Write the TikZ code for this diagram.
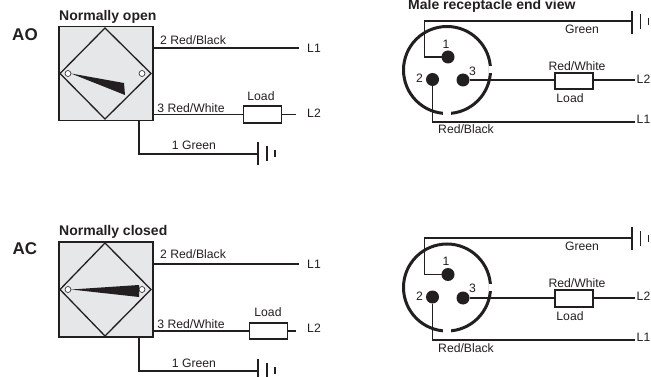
\documentclass[tikz,border=0pt]{standalone}
\usepackage{fontspec}
\setmainfont{Liberation Sans}
\definecolor{ink}{HTML}{231F20}
\definecolor{panel}{HTML}{E6E7E8}
\tikzset{
  wire/.style={draw=ink,line width=1.25pt},
  txt/.style={text=ink,inner sep=0pt,font=\fontsize{12.2}{13}\selectfont},
  titletxt/.style={text=ink,inner sep=0pt,anchor=west,font=\fontsize{14}{15}\bfseries\selectfont},
  tagtxt/.style={text=ink,inner sep=0pt,font=\fontsize{17}{18}\bfseries\selectfont},
  sensor/.style={draw=ink,fill=panel,line width=1.5pt,rectangle,minimum width=94,minimum height=94,inner sep=0pt,outer sep=0pt},
  facet/.style={draw=ink,line width=1.3pt},
  loadbox/.style={draw=ink,fill=white,line width=1.6pt,rectangle,minimum width=38,minimum height=16.5,inner sep=0pt,outer sep=0pt},
  pin/.style={fill=ink,circle,minimum size=13,inner sep=0pt,outer sep=0pt},
  lug/.style={draw=ink,fill=white,circle,line width=.6pt,minimum size=6,inner sep=0pt,outer sep=0pt},
  rim/.style={draw=ink,line width=3pt},
  earthbar/.style={draw=ink,line width=1.25pt},
}
\begin{document}
\begin{tikzpicture}[x=1pt,y=-1pt]
\useasboundingbox (0,0) rectangle (651,377);
\clip (0,0) rectangle (651,377);
% ---------- top left
\node[tagtxt] at (25,35) {AO};
\node[titletxt] at (59,17) {Normally open};
\node[sensor] (s1) at (106,73.5) {};
\draw[facet] (105,28) -- (151,73.5) -- (105,119) -- (60,73.5) -- cycle;
\node[lug] (s1a) at (68,73.5) {};
\node[lug] (s1b) at (142,73.5) {};
\fill[ink] (s1a.east) -- (124,83) -- (125,95) -- cycle;
\node[loadbox] (r1) at (262.5,114.5) {};
\coordinate (l1a) at (299,48);
\coordinate (l2a) at (296,114.5);
\coordinate (g1) at (258,154);
\draw[wire] (s1.east |- l1a) -- (l1a);
\draw[wire] (s1.east |- r1) -- (r1.west);
\draw[wire] (r1.east) -- (l2a);
\draw[wire] (139,120.5) |- (g1);
\draw[earthbar] (g1) ++(0,-12) -- ++(0,23);
\draw[earthbar] (g1) ++(9,-8) -- ++(0,15);
\draw[earthbar,line width=1.6pt] (g1) ++(17,-4) -- ++(0,7);
\node[txt] at (193,40) {2 Red/Black};
\node[txt] at (191,108) {3 Red/White};
\node[txt] at (261,96) {Load};
\node[txt] at (194,145) {1 Green};
\node[txt] at (314,48) {L1};
\node[txt] at (314,113) {L2};
% ---------- bottom left
\node[tagtxt] at (25,249) {AC};
\node[titletxt] at (59,232) {Normally closed};
\node[sensor,minimum height=95] (s2) at (106,289.5) {};
\draw[facet] (105,243) -- (151,289.5) -- (105,336) -- (60,289.5) -- cycle;
\node[lug] (s2a) at (68,289.5) {};
\node[lug] (s2b) at (142,289.5) {};
\fill[ink] (s2a.east) -- (139,285) -- (139,297) -- cycle;
\node[loadbox] (r2) at (268.5,331) {};
\coordinate (l1b) at (299,264);
\coordinate (l2b) at (296,331);
\coordinate (g2) at (258,371);
\draw[wire] (s2.east |- l1b) -- (l1b);
\draw[wire] (s2.east |- l2b) -- (r2.west |- l2b);
\draw[wire] (r2.east |- l2b) -- (l2b);
\draw[wire] (139,337.5) |- (g2);
\draw[earthbar] (g2) ++(0,-12) -- ++(0,23);
\draw[earthbar] (g2) ++(9,-8) -- ++(0,15);
\draw[earthbar,line width=1.6pt] (g2) ++(17,-4) -- ++(0,7);
\node[txt] at (193,254) {2 Red/Black};
\node[txt] at (191,324) {3 Red/White};
\node[txt] at (268,312) {Load};
\node[txt] at (194,363) {1 Green};
\node[txt] at (314,264) {L1};
\node[txt] at (314,328) {L2};
% ---------- top right
\node[titletxt] at (408,6) {Male receptacle end view};
\draw[rim] (447,70) circle (43.5);
\fill[white] (489,66) rectangle (493,73);
\fill[white] (443,111) rectangle (451,116);
\node[pin] (p1) at (448,57) {};
\node[pin] (p2) at (432.5,79.5) {};
\node[pin] (p3) at (463,80) {};
\node[loadbox] (r3) at (574,81) {};
\coordinate (l2c) at (635,80);
\coordinate (l1c) at (635,122);
\coordinate (g3) at (632,21);
\draw[wire] (g3) -| (424.5,57) -- (p1);
\draw[wire] (p3) -- (r3.west |- p3);
\draw[wire] (r3.east |- p3) -- (l2c);
\draw[wire] (p2) |- (l1c);
\draw[earthbar] (g3) ++(0,-10) -- ++(0,23);
\draw[earthbar] (g3) ++(8.5,-7) -- ++(0,15);
\draw[earthbar,line width=1.6pt] (g3) ++(16.5,-3) -- ++(0,7);
\node[txt] at (446,44) {1};
\node[txt] at (419.5,78) {2};
\node[txt] at (472.5,71) {3};
\node[txt] at (582,29) {Green};
\node[txt] at (577,66) {Red/White};
\node[txt] at (570,98) {Load};
\node[txt] at (466,129) {Red/Black};
\node[txt,anchor=east] at (650.5,79) {L2};
\node[txt,anchor=east] at (650.5,119) {L1};
% ---------- bottom right
\draw[rim] (447,287.5) circle (43.5);
\fill[white] (489,284) rectangle (493,291);
\fill[white] (443,329) rectangle (451,334);
\node[pin] (p4) at (448,274.5) {};
\node[pin] (p5) at (432.5,297) {};
\node[pin] (p6) at (463,298) {};
\node[loadbox] (r4) at (574,298.5) {};
\coordinate (l2d) at (635,298);
\coordinate (l1d) at (635,340);
\coordinate (g4) at (632,238);
\draw[wire] (g4) -| (424.5,274.5) -- (p4);
\draw[wire] (p6) -- (r4.west |- p6);
\draw[wire] (r4.east |- p6) -- (l2d);
\draw[wire] (p5) |- (l1d);
\draw[earthbar] (g4) ++(0,-11) -- ++(0,23);
\draw[earthbar] (g4) ++(8.5,-7) -- ++(0,15);
\draw[earthbar,line width=1.6pt] (g4) ++(16.5,-3) -- ++(0,7);
\node[txt] at (446,261) {1};
\node[txt] at (419.5,296) {2};
\node[txt] at (472.5,288) {3};
\node[txt] at (582,246) {Green};
\node[txt] at (577,283) {Red/White};
\node[txt] at (570,316) {Load};
\node[txt] at (466,348) {Red/Black};
\node[txt,anchor=east] at (650.5,296) {L2};
\node[txt,anchor=east] at (650.5,337) {L1};
\end{tikzpicture}
\end{document}
